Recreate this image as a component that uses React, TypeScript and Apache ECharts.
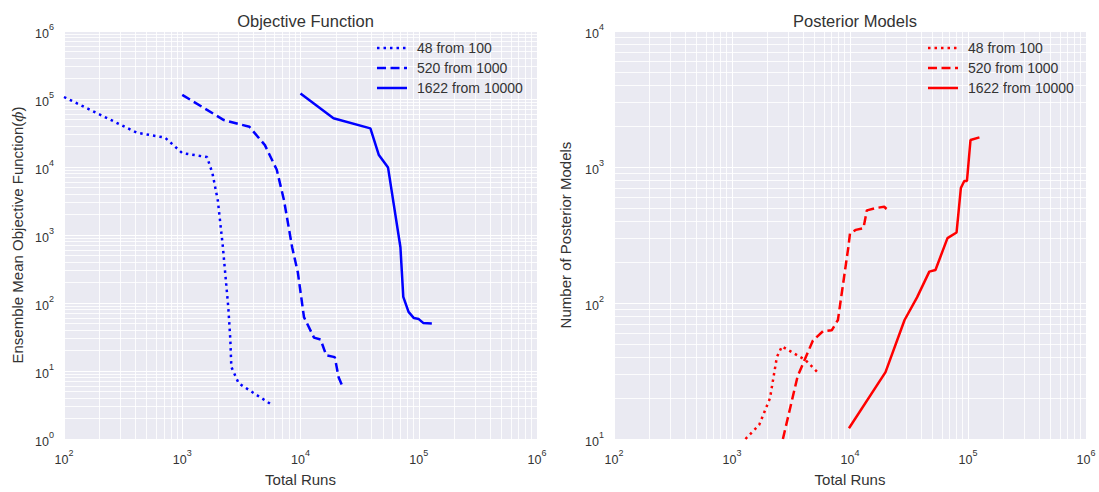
import React, { useEffect, useRef } from "react";
import * as echarts from "echarts";

// Objective Function (left panel)
const objDottedX = [100, 412, 716, 1000, 1620, 1800, 2000, 2200, 2450, 2550, 2600, 3000, 3900, 5700];
const objDottedY = [107000, 32000, 27000, 16000, 14000, 8100, 3200, 700, 87, 29, 11.5, 6.6, 4.9, 3.2];
const objDashedX = [1000, 2250, 3700, 5000, 6300, 7250, 8500, 9500, 10700, 13000, 14800, 16500, 19500, 21000, 22400];
const objDashedY = [115000, 49000, 39000, 21000, 9100, 3250, 660, 280, 62, 31, 29, 17, 16, 8.1, 6.2];
const objSolidX = [10000, 19000, 39000, 46000, 55000, 70000, 74000, 82000, 91000, 100000, 109000, 129000];
const objSolidY = [120000, 52000, 37000, 15000, 9800, 660, 123, 74, 60, 58, 51, 50];

// Posterior Models (right panel)
const postDottedX = [1300, 1700, 2100, 2400, 2650, 4200, 5300];
const postDottedY = [10, 12.7, 20, 40, 48, 38, 31];
const postDashedX = [2700, 3600, 4850, 5900, 7000, 7900, 9700, 10000, 11200, 13000, 13900, 16700, 19500, 21000];
const postDashedY = [10, 29, 53, 62, 63, 75, 260, 325, 345, 355, 480, 500, 510, 480];
const postSolidX = [9800, 20000, 29000, 37000, 47000, 53000, 67000, 80000, 87000, 93000, 98000, 105000, 125000];
const postSolidY = [12, 31, 75, 110, 170, 175, 300, 330, 700, 790, 790, 1580, 1650];

const seriesNames = ["48 from 100", "520 from 1000", "1622 from 10000"];
const leftTitle = "Objective Function";
const rightTitle = "Posterior Models";
const xName = "Total Runs";
const leftYName = "Ensemble Mean Objective Function({i|ϕ})";
const rightYName = "Number of Posterior Models";

const FONT = "'Liberation Sans', Arial, sans-serif";
const TXT = "#333333";
const BLUE = "#0000ff";
const RED = "#ff0000";

const GL = { left: 64, top: 31, width: 473, height: 408 };
const GR = { left: 614, top: 31, width: 472, height: 408 };

function zip(xs: number[], ys: number[]) {
  return xs.map((x, i) => [x, ys[i]]);
}

function minorValues(minExp: number, maxExp: number) {
  const out: number[] = [];
  for (let e = minExp; e < maxExp; e++) {
    for (let k = 2; k <= 9; k++) out.push(k * Math.pow(10, e));
  }
  return out;
}

const supLabel = {
  formatter: (v: number) => `{b|10}{s|${Math.round(Math.log10(v))}}`,
  rich: {
    b: { fontSize: 12.5, color: TXT, fontFamily: FONT, lineHeight: 18, verticalAlign: "bottom" },
    s: { fontSize: 9, color: TXT, fontFamily: FONT, lineHeight: 9, verticalAlign: "top" },
  },
};

const dashes: any[] = [[2.5, 4], [9, 4.5], null];

function legendGraphics(x0: number, color: string) {
  const els: any[] = [];
  seriesNames.forEach((n, i) => {
    const y = 48 + i * 20;
    els.push({
      type: "line",
      shape: { x1: x0, y1: y, x2: x0 + 30, y2: y },
      style: { stroke: color, lineWidth: 2.5, lineDash: dashes[i] || undefined },
      z: 10,
    });
    els.push({
      type: "text",
      x: x0 + 40,
      y,
      style: { text: n, fill: TXT, fontSize: 14, fontFamily: FONT, verticalAlign: "middle", align: "left" },
      z: 10,
    });
  });
  return els;
}

export default function App() {
  const ref = useRef<HTMLDivElement>(null);
  useEffect(() => {
    if (!ref.current) return;
    const chart = echarts.init(ref.current, undefined, { renderer: "svg" });

    const mkX = (gridIndex: number) => ({
      type: "log",
      logBase: 10,
      gridIndex,
      min: 100,
      max: 1000000,
      name: xName,
      nameLocation: "middle",
      nameGap: 33,
      nameTextStyle: { fontSize: 15, color: TXT, fontFamily: FONT },
      axisLine: { show: false },
      axisTick: { show: false },
      axisLabel: { ...supLabel, margin: 9 },
      splitLine: { show: true, lineStyle: { color: "#ffffff", width: 1 } },
    });
    const mkY = (gridIndex: number, min: number, max: number, name: string, gap: number) => ({
      type: "log",
      logBase: 10,
      gridIndex,
      min,
      max,
      name,
      nameLocation: "middle",
      nameGap: gap,
      nameTextStyle: {
        fontSize: 15,
        color: TXT,
        fontFamily: FONT,
        rich: { i: { fontSize: 15, color: TXT, fontFamily: "'DejaVu Serif', serif", fontStyle: "italic" } },
      },
      axisLine: { show: false },
      axisTick: { show: false },
      axisLabel: { ...supLabel, margin: 10 },
      splitLine: { show: true, lineStyle: { color: "#ffffff", width: 1 } },
    });

    const mkLine = (name: string, data: number[][], idx: number, color: string, styleIdx: number) => ({
      type: "line",
      name,
      xAxisIndex: idx,
      yAxisIndex: idx,
      data,
      symbol: "none",
      showSymbol: false,
      z: 5,
      lineStyle: { color, width: 2.5, type: dashes[styleIdx] || "solid" },
      itemStyle: { color },
      clip: true,
    });

    const gridLines = (idx: number, yMinExp: number, yMaxExp: number, anchor: number[]) => ({
      type: "line",
      name: "grid" + idx,
      xAxisIndex: idx,
      yAxisIndex: idx,
      data: [anchor],
      symbol: "none",
      lineStyle: { opacity: 0 },
      silent: true,
      z: 1,
      markLine: {
        silent: true,
        symbol: "none",
        label: { show: false },
        animation: false,
        lineStyle: { color: "#ffffff", width: 1, type: "solid", opacity: 0.85 },
        data: [
          ...minorValues(2, 6).map((v) => ({ xAxis: v })),
          ...minorValues(yMinExp, yMaxExp).map((v) => ({ yAxis: v })),
        ],
      },
    });

    chart.setOption({
      animation: false,
      backgroundColor: "#ffffff",
      textStyle: { fontFamily: FONT },
      title: [
        { text: leftTitle, left: GL.left + GL.width / 2, top: 7, textAlign: "center", textStyle: { fontSize: 16.5, fontWeight: "normal", color: TXT, fontFamily: FONT } },
        { text: rightTitle, left: GR.left + GR.width / 2, top: 7, textAlign: "center", textStyle: { fontSize: 16.5, fontWeight: "normal", color: TXT, fontFamily: FONT } },
      ],
      grid: [
        { ...GL, show: true, backgroundColor: "#EAEAF2", borderWidth: 0 },
        { ...GR, show: true, backgroundColor: "#EAEAF2", borderWidth: 0 },
      ],
      xAxis: [mkX(0), mkX(1)],
      yAxis: [mkY(0, 1, 1000000, leftYName, 39), mkY(1, 10, 10000, rightYName, 41)],
      series: [
        gridLines(0, 0, 6, [1000, 10]),
        gridLines(1, 1, 4, [1000, 100]),
        mkLine(seriesNames[0], zip(objDottedX, objDottedY), 0, BLUE, 0),
        mkLine(seriesNames[1], zip(objDashedX, objDashedY), 0, BLUE, 1),
        mkLine(seriesNames[2], zip(objSolidX, objSolidY), 0, BLUE, 2),
        mkLine(seriesNames[0], zip(postDottedX, postDottedY), 1, RED, 0),
        mkLine(seriesNames[1], zip(postDashedX, postDashedY), 1, RED, 1),
        mkLine(seriesNames[2], zip(postSolidX, postSolidY), 1, RED, 2),
      ],
      graphic: [...legendGraphics(377, BLUE), ...legendGraphics(928, RED)],
    });
    return () => chart.dispose();
  }, []);
  return (
    <div
      ref={ref}
      style={{ position: "fixed", left: 0, top: 0, width: 1099, height: 492 }}
    />
  );
}
